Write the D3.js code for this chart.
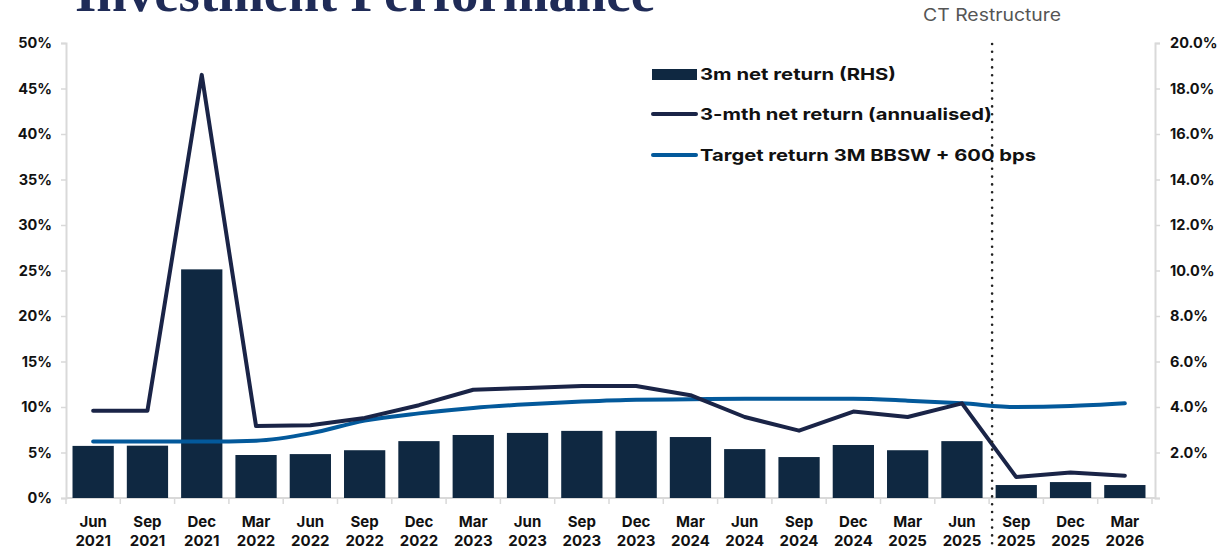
<!DOCTYPE html>
<html><head><meta charset="utf-8">
<script src="https://cdn.jsdelivr.net/npm/d3@7"></script>
<style>
html,body{margin:0;padding:0;background:#fff;}
svg{display:block;}
text{font-family:"Inter","Noto Sans",sans-serif;}
</style></head>
<body>
<svg id="chart" width="1221" height="550"></svg>
<script>
const categories = ["Jun 2021","Sep 2021","Dec 2021","Mar 2022","Jun 2022","Sep 2022","Dec 2022","Mar 2023","Jun 2023","Sep 2023","Dec 2023","Mar 2024","Jun 2024","Sep 2024","Dec 2024","Mar 2025","Jun 2025","Sep 2025","Dec 2025","Mar 2026"];
// 3m net return (RHS), %
const netReturn3m = [2.29,2.3,10.05,1.89,1.93,2.1,2.5,2.77,2.86,2.95,2.95,2.68,2.15,1.8,2.33,2.1,2.5,0.57,0.7,0.57];
// 3-mth net return (annualised), LHS %
const annualised = [9.6,9.6,46.5,7.9,8.0,8.8,10.2,11.9,12.1,12.3,12.3,11.3,8.9,7.4,9.5,8.9,10.4,2.3,2.8,2.45];
// Target return 3M BBSW + 600 bps, LHS %
const target = [6.2,6.2,6.2,6.3,7.1,8.5,9.3,9.9,10.3,10.6,10.8,10.85,10.9,10.9,10.9,10.7,10.4,10.0,10.1,10.4];
const leftTicks = [0,5,10,15,20,25,30,35,40,45,50];
const rightTicks = [0,2,4,6,8,10,12,14,16,18,20];
const legendLabels = ["3m net return (RHS)","3-mth net return (annualised)","Target return 3M BBSW + 600 bps"];
const titleText = "Investment Performance";
const markerText = "CT Restructure";
const markerAfter = "Jun 2025";

const svg = d3.select("#chart");
const L = 66, R = 1152, T = 43, B = 498;
const cBar = "#0f2841", cLine = "#1a2447", cTarget = "#03599b", cAxis = "#d9d9d9";

const x = d3.scaleBand().domain(categories).range([L, R]).paddingInner(0.24).paddingOuter(0.12);
const yL = d3.scaleLinear().domain([0,50]).range([B,T]);
const yR = d3.scaleLinear().domain([0,20]).range([B,T]);
const cx = c => x(c) + x.bandwidth()/2;

// Title (cut off at top, as in the reference)
svg.append("text").attr("x", 75).attr("y", 11)
  .style("font-family","'Liberation Serif','DejaVu Serif',serif")
  .attr("font-weight", 700).attr("font-size", 54).attr("fill", "#1f2b57")
  .attr("textLength", 580).attr("lengthAdjust","spacingAndGlyphs")
  .text(titleText);

// Axes
const gL = svg.append("g").attr("transform", `translate(${L},0)`)
  .call(d3.axisLeft(yL).tickValues(leftTicks).tickSize(5).tickPadding(9).tickFormat(d => d + "%"));
const gR = svg.append("g").attr("transform", `translate(1155,0)`)
  .call(d3.axisRight(yR).tickValues(rightTicks).tickSize(5).tickPadding(10).tickFormat(d => d === 0 ? "" : d.toFixed(1) + "%"));
[gL, gR].forEach(g => {
  g.select(".domain").attr("stroke", cAxis).attr("stroke-width", 2);
  g.selectAll(".tick line").attr("stroke", cAxis).attr("stroke-width", 1.5);
  g.selectAll(".tick text").attr("font-size", 14.5).attr("font-weight", 700).attr("fill", "#111");
});

// X axis baseline & ticks at band boundaries
const gX = svg.append("g").attr("transform", `translate(0,${B})`)
  .call(d3.axisBottom(x).tickSize(0).tickFormat(""));
gX.select(".domain").attr("stroke", cAxis).attr("stroke-width", 2).attr("d", `M${L},0H1155`);
const step = x.step();
const bounds = categories.map(c => x(c) - step*x.paddingInner()/2).concat([x(categories[categories.length-1]) + x.bandwidth() + step*x.paddingInner()/2]);
gX.selectAll(".bt").data(bounds).join("line").attr("class","bt")
  .attr("x1", d => d).attr("x2", d => d).attr("y1", 0).attr("y2", 6)
  .attr("stroke", cAxis).attr("stroke-width", 1.5);
// two-line x labels
const xl = svg.append("g");
categories.forEach(c => {
  const [m, yv] = c.split(" ");
  const t = xl.append("text").attr("x", cx(c)).attr("text-anchor","middle")
    .attr("font-size", 15).attr("font-weight", 700).attr("fill", "#111");
  t.append("tspan").attr("x", cx(c)).attr("y", 527).text(m);
  t.append("tspan").attr("x", cx(c)).attr("y", 546).text(yv);
});

// Bars (RHS)
svg.append("g").selectAll("rect").data(categories).join("rect")
  .attr("x", c => x(c)).attr("width", x.bandwidth())
  .attr("y", (c,i) => yR(netReturn3m[i])).attr("height", (c,i) => B - yR(netReturn3m[i]))
  .attr("fill", cBar);

// Target line (smooth)
svg.append("path").datum(target)
  .attr("d", d3.line().x((d,i) => cx(categories[i])).y(d => yL(d)).curve(d3.curveMonotoneX))
  .attr("fill","none").attr("stroke", cTarget).attr("stroke-width", 4).attr("stroke-linecap","round");
// Annualised line
svg.append("path").datum(annualised)
  .attr("d", d3.line().x((d,i) => cx(categories[i])).y(d => yL(d)))
  .attr("fill","none").attr("stroke", cLine).attr("stroke-width", 4).attr("stroke-linecap","round").attr("stroke-linejoin","round");

// CT Restructure dotted marker
const ia = categories.indexOf(markerAfter);
const mx = (x(categories[ia]) + x.bandwidth() + x(categories[ia+1])) / 2 + 3;
svg.append("line").attr("x1", mx).attr("x2", mx).attr("y1", 44).attr("y2", 548)
  .attr("stroke", "#222").attr("stroke-width", 2.6).attr("stroke-linecap","round").attr("stroke-dasharray","0,7.8");
svg.append("text").attr("x", mx).attr("y", 21).attr("text-anchor","middle")
  .attr("font-size", 17).attr("fill", "#555").attr("textLength", 138).attr("lengthAdjust","spacingAndGlyphs").text(markerText);

// Legend
const lg = svg.append("g");
const ly = [74, 114, 155];
lg.append("rect").attr("x", 652).attr("y", ly[0]-5).attr("width", 45).attr("height", 11).attr("fill", cBar);
lg.append("line").attr("x1", 653).attr("x2", 696).attr("y1", ly[1]).attr("y2", ly[1]).attr("stroke", cLine).attr("stroke-width", 4).attr("stroke-linecap","round");
lg.append("line").attr("x1", 653).attr("x2", 696).attr("y1", ly[2]).attr("y2", ly[2]).attr("stroke", cTarget).attr("stroke-width", 4).attr("stroke-linecap","round");
const legW = [196, 292, 336];
legendLabels.forEach((t,i) => {
  lg.append("text").attr("x", 700).attr("y", ly[i] + 6).attr("font-size", 16.5).attr("font-weight", 700)
    .attr("fill", "#111").attr("textLength", legW[i]).attr("lengthAdjust","spacingAndGlyphs").text(t);
});
</script>
</body></html>
